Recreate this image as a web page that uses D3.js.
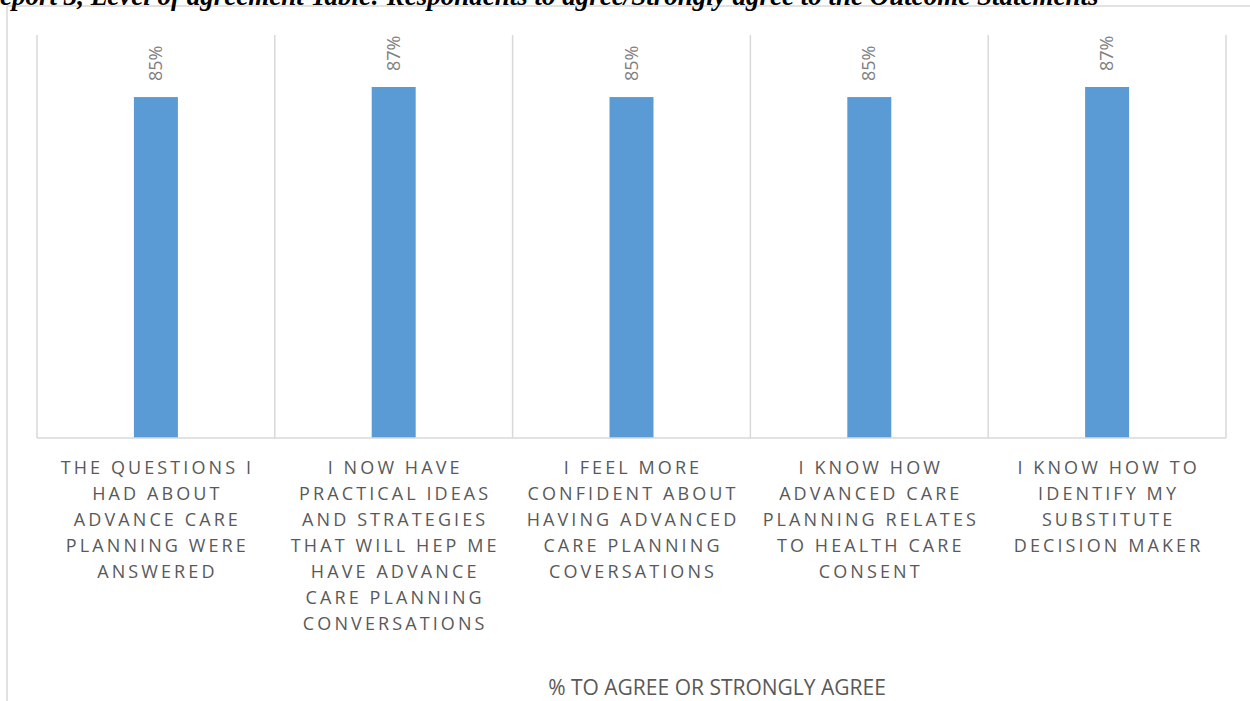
<!DOCTYPE html>
<html lang="en">
<head>
  <meta charset="UTF-8" />
  <title>Outcome statements</title>
  <script src="https://d3js.org/d3.v7.min.js"></script>
  <style>
    body {
      margin: 0;
      padding: 0;
      background: white;
      overflow: hidden;
    }

    .grid-line {
      stroke: #d9d9d9;
      stroke-width: 1.5px;
    }

    .bar {
      fill: #5b9bd5;
    }

    .value-label {
      fill: #7f7f7f;
      font-family: "Open Sans", sans-serif;
      font-size: 18px;
    }

    .cat-label {
      fill: #595959;
      font-family: "Open Sans", sans-serif;
      font-size: 18px;
      letter-spacing: 3.1px;
    }

    .legend-label {
      fill: #595959;
      font-family: "Open Sans", sans-serif;
      font-size: 21px;
      letter-spacing: 0px;
    }

    .title {
      font-family: "Liberation Serif", serif;
      font-weight: bold;
      font-style: italic;
      font-size: 27px;
      fill: #000;
    }
  </style>
</head>
<body>
  <svg id="chart" width="1250" height="701"></svg>

  <script>
    const titleText = "Report 3, Level of agreement Table: Respondents to agree/Strongly agree to the Outcome Statements";

    // Category labels, already broken into the lines shown under each bar
    const categories = [
      ["THE QUESTIONS I", "HAD ABOUT", "ADVANCE CARE", "PLANNING WERE", "ANSWERED"],
      ["I NOW HAVE", "PRACTICAL IDEAS", "AND STRATEGIES", "THAT WILL HEP ME", "HAVE ADVANCE", "CARE PLANNING", "CONVERSATIONS"],
      ["I FEEL MORE", "CONFIDENT ABOUT", "HAVING ADVANCED", "CARE PLANNING", "COVERSATIONS"],
      ["I KNOW HOW", "ADVANCED CARE", "PLANNING RELATES", "TO HEALTH CARE", "CONSENT"],
      ["I KNOW HOW TO", "IDENTIFY MY", "SUBSTITUTE", "DECISION MAKER"]
    ];

    // Share agreeing or strongly agreeing
    const agreeShare = [0.846, 0.871, 0.846, 0.846, 0.871];

    const seriesName = "% TO AGREE OR STRONGLY AGREE";

    const plot = { left: 37, right: 1226, top: 35, bottom: 438 };

    const svg = d3.select("#chart");

    const x = d3.scaleBand()
      .domain(d3.range(categories.length))
      .range([plot.left, plot.right])
      .padding(0);

    const y = d3.scaleLinear()
      .domain([0, 1])
      .range([plot.bottom, plot.top]);

    const barWidth = x.bandwidth() * 0.185;
    const fmt = d3.format(".0%");

    // Outer chart frame (only top and left edges fall inside the picture)
    svg.append("line").attr("class", "grid-line")
      .attr("x1", 7).attr("x2", 1250).attr("y1", 6).attr("y2", 6);
    svg.append("line").attr("class", "grid-line")
      .attr("x1", 7).attr("x2", 7).attr("y1", 6).attr("y2", 701);

    // Title, clipped by the top of the picture as in the source
    svg.append("text")
      .attr("class", "title")
      .attr("x", -18)
      .attr("y", 5)
      .text(titleText);

    // Vertical category separators
    const edges = d3.range(categories.length + 1).map(i =>
      i < categories.length ? x(i) : x(categories.length - 1) + x.bandwidth());

    svg.selectAll(".sep")
      .data(edges)
      .join("line")
      .attr("class", "grid-line sep")
      .attr("x1", d => d)
      .attr("x2", d => d)
      .attr("y1", plot.top)
      .attr("y2", plot.bottom);

    // Bars
    svg.selectAll(".bar")
      .data(agreeShare)
      .join("rect")
      .attr("class", "bar")
      .attr("x", (d, i) => x(i) + (x.bandwidth() - barWidth) / 2)
      .attr("y", d => y(d))
      .attr("width", barWidth)
      .attr("height", d => y(0) - y(d));

    // Baseline
    svg.append("line").attr("class", "grid-line")
      .attr("x1", plot.left).attr("x2", plot.right)
      .attr("y1", plot.bottom).attr("y2", plot.bottom);

    // Rotated value labels
    svg.selectAll(".value-label")
      .data(agreeShare)
      .join("text")
      .attr("class", "value-label")
      .attr("transform", (d, i) =>
        `translate(${x(i) + x.bandwidth() / 2 + 6},${y(d) - 16}) rotate(-90)`)
      .attr("text-anchor", "start")
      .text(d => fmt(d));

    // Category labels
    const catGroups = svg.selectAll(".cat-label")
      .data(categories)
      .join("text")
      .attr("class", "cat-label")
      .attr("text-anchor", "middle");

    catGroups.selectAll("tspan")
      .data((d, i) => d.map(line => ({ line, i })))
      .join("tspan")
      .attr("x", d => x(d.i) + x.bandwidth() / 2 + 1.5)
      .attr("y", (d, j) => 474 + j * 26)
      .text(d => d.line);

    // Series name under the chart
    svg.append("text")
      .attr("class", "legend-label")
      .attr("x", 717)
      .attr("y", 695)
      .attr("text-anchor", "middle")
      .text(seriesName);
  </script>
</body>
</html>
